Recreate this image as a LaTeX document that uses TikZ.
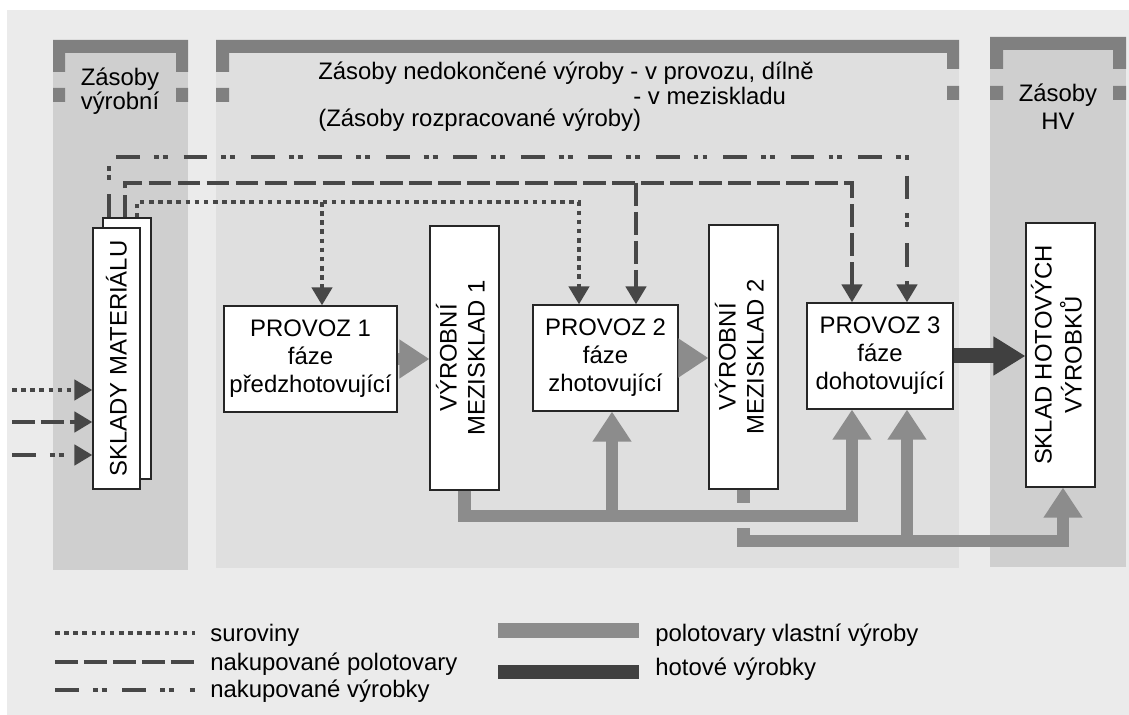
\documentclass[tikz,border=0pt]{standalone}
\usepackage{fontspec}
\setmainfont{Liberation Sans}
\usepackage{graphicx}
\usetikzlibrary{arrows.meta}

\definecolor{cBg}{gray}{0.92}
\definecolor{cMid}{gray}{0.875}
\definecolor{cSide}{gray}{0.81}
\definecolor{cBrk}{gray}{0.50}
\definecolor{cPolo}{gray}{0.55}
\definecolor{cHot}{gray}{0.25}
\definecolor{cFlow}{gray}{0.28}

\newcommand{\vtext}[1]{\rotatebox{90}{\begin{tabular}{@{}c@{}}#1\end{tabular}}}

\begin{document}
\begin{tikzpicture}[x=0.02cm, y=-0.02cm,
    every node/.style={font=\fontsize{13.6}{16}\selectfont},
    txt/.style={anchor=base west, inner xsep=0pt},
    tip/.style={-{Triangle[width=0.4cm,length=0.36cm]}},
    surov/.style={draw=cFlow, line width=2.4pt, dash pattern=on 2.6pt off 2.6pt},
    nakpol/.style={draw=cFlow, line width=2.8pt, dash pattern=on 13pt off 3.5pt},
    nakvyr/.style={draw=cFlow, line width=2.8pt, dash pattern=on 13.5pt off 8pt on 2.8pt off 2.3pt on 2.8pt off 9pt},
    polo/.style={draw=cPolo, line width=0.25cm, -{Triangle[width=0.74cm,length=0.6cm]}},
    hotov/.style={draw=cHot, line width=0.3cm, -{Triangle[width=0.74cm,length=0.64cm]}}]

  % background and panels
  \fill[white] (0,0) rectangle (1129,715);
  \useasboundingbox (0,0) rectangle (1129,715);
  \fill[cBg] (7,10) rectangle (1129,715);
  \fill[cSide] (53,40) rectangle (188,570);
  \fill[cMid] (216,40) rectangle (959,568);
  \fill[cSide] (990,38) rectangle (1126,567);

  % brackets
  \fill[cBrk] (53,40) -- (188,40) -- (188,72) -- (176,72) -- (176,53) -- (65,53) -- (65,72) -- (53,72) -- cycle;
  \fill[cBrk] (53,88) rectangle (65,102) (176,88) rectangle (188,102);
  \fill[cBrk] (216,40) -- (959,40) -- (959,69) -- (947,69) -- (947,53) -- (229,53) -- (229,72) -- (216,72) -- cycle;
  \fill[cBrk] (216,88) rectangle (229,102) (947,86) rectangle (959,100);
  \fill[cBrk] (990,37) -- (1126,37) -- (1126,69) -- (1113,69) -- (1113,50) -- (1003,50) -- (1003,69) -- (990,69) -- cycle;
  \fill[cBrk] (990,86) rectangle (1003,100) (1113,86) rectangle (1126,100);

  % panel titles
  \node[align=center, font=\fontsize{13.6}{13.6}\selectfont] (tvyr) at (120,91) {Zásoby\\výrobní};
  \node[txt] (tned1) at (318,80) {Zásoby nedokončené výroby - v provozu, dílně};
  \node[txt] (tned2) at (633,105) {- v meziskladu};
  \node[txt] (tned3) at (318,127) {(Zásoby rozpracované výroby)};
  \node[align=center, font=\fontsize{13.6}{15.9}\selectfont] (thv) at (1058,107) {Zásoby\\HV};

  % boxes
  \begin{scope}[every node/.style={draw=black!85, line width=0.7pt, fill=white, inner sep=0pt,
      align=center, font=\fontsize{13.6}{16}\selectfont}]
    \node[minimum width=0.96cm, minimum height=5.22cm] (smb) at (127,348.5) {};
    \node[minimum width=0.94cm, minimum height=5.22cm] (sm) at (116.5,358.5) {\rotatebox{90}{SKLADY MATERIÁLU}};
    \node[minimum width=3.46cm, minimum height=2.12cm] (p1) at (310.5,359) {PROVOZ 1\\fáze\\předzhotovující};
    \node[minimum width=1.38cm, minimum height=5.28cm] (m1) at (464.5,358) {\vtext{VÝROBNÍ\\MEZISKLAD 1}};
    \node[minimum width=2.9cm, minimum height=2.12cm] (p2) at (605.5,358) {PROVOZ 2\\fáze\\zhotovující};
    \node[minimum width=1.38cm, minimum height=5.28cm] (m2) at (743.5,357) {\vtext{VÝROBNÍ\\MEZISKLAD 2}};
    \node[minimum width=2.92cm, minimum height=2.12cm] (p3) at (880,356) {PROVOZ 3\\fáze\\dohotovující};
    \node[minimum width=1.38cm, minimum height=5.28cm] (hv) at (1060.5,355) {\vtext{SKLAD HOTOVÝCH\\VÝROBKŮ}};
  \end{scope}

  % runs and columns
  \coordinate (rsur) at (137,202);
  \coordinate (rpol) at (125,183);
  \coordinate (rvyr) at (109,157);
  \coordinate (cp1) at (322,0);
  \coordinate (cp2a) at (579,0);
  \coordinate (cp2b) at (636,0);
  \coordinate (cp2c) at (612,0);
  \coordinate (cp3a) at (852,0);
  \coordinate (cp3b) at (907,0);
  \coordinate (chv) at (1063,0);
  \coordinate (bus1) at (0,516);
  \coordinate (bus2) at (0,541);
  \coordinate (in1) at (12,390);
  \coordinate (in2) at (12,422);
  \coordinate (in3) at (12,455);

  % purchased flows
  \draw[nakvyr,tip] (smb.north -| rvyr) -- (rvyr) -| (p3.north -| cp3b);
  \draw[nakpol,tip] (smb.north -| rpol) -- (rpol) -| (p3.north -| cp3a);
  \draw[nakpol,tip] (rpol -| cp2b) -- (p2.north -| cp2b);
  \draw[surov,tip] (smb.north -| rsur) -- (rsur) -| (p2.north -| cp2a);
  \draw[surov,tip] (rsur -| cp1) -- (p1.north -| cp1);

  \draw[surov,tip] (in1) -- (sm.west |- in1);
  \draw[nakpol,tip] (in2) -- (sm.west |- in2);
  \draw[nakvyr,tip] (in3) -- (sm.west |- in3);

  % own semi-products
  \draw[polo] (p1.east) -- (p1.east -| m1.west);
  \draw[polo] (p2.east) -- (p2.east -| m2.west);
  \draw[polo] (m2.south) |- (bus2 -| chv) -- (hv.south -| chv);
  \draw[polo] (bus2 -| cp3b) -- (p3.south -| cp3b);
  \fill[cMid] (735,503) rectangle (752,528);
  \draw[polo] (m1.south) |- (bus1 -| cp3a) -- (p3.south -| cp3a);
  \draw[polo] (bus1 -| cp2c) -- (p2.south -| cp2c);

  % finished goods
  \draw[hotov] (p3.east) -- (p3.east -| hv.west);

  % legend
  \coordinate (l1) at (55,633);
  \coordinate (l2) at (55,662);
  \coordinate (l3) at (55,690);
  \draw[surov] (l1) -- ++(140,0);
  \draw[nakpol] (l2) -- ++(140,0);
  \draw[nakvyr] (l3) -- ++(140,0);
  \node[txt] (tl1) at (210,642) {suroviny};
  \node[txt] (tl2) at (210,670) {nakupované polotovary};
  \node[txt] (tl3) at (210,698) {nakupované výrobky};
  \fill[cPolo] (498,623) rectangle (639,638);
  \fill[cHot] (498,665) rectangle (639,679);
  \node[txt] (tl4) at (655,642) {polotovary vlastní výroby};
  \node[txt] (tl5) at (655,676) {hotové výrobky};
\end{tikzpicture}
\end{document}
